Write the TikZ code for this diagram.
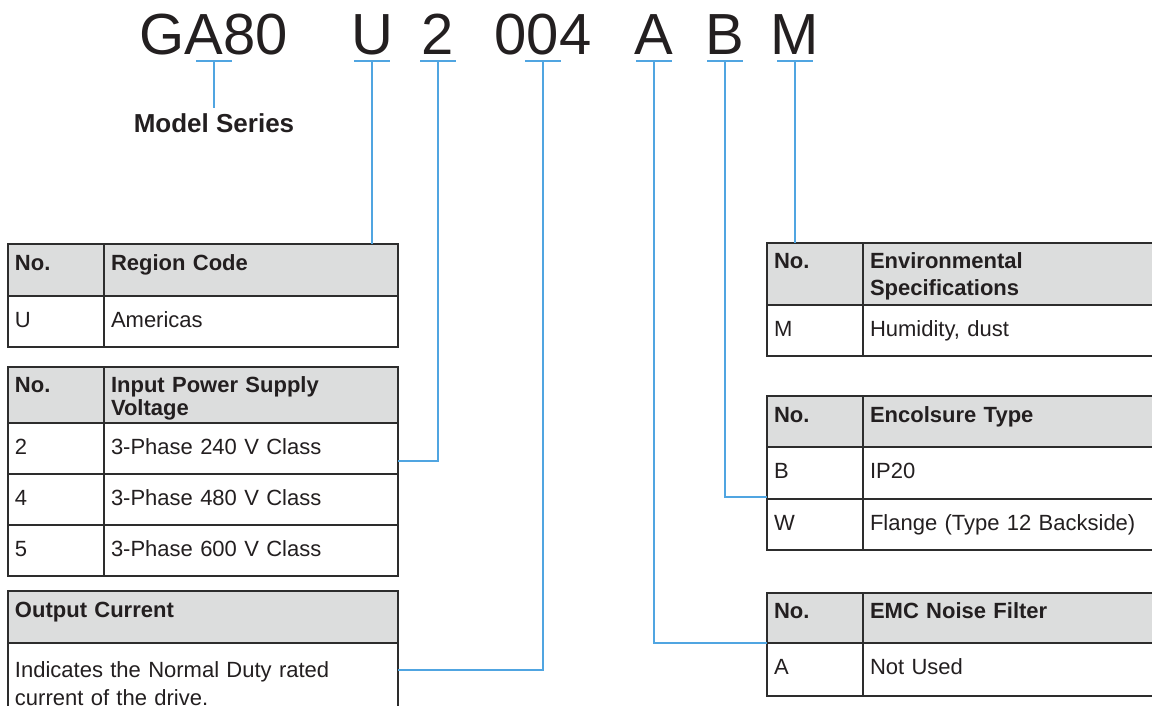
\documentclass[tikz,border=0pt]{standalone}
\usepackage{fontspec}
\setmainfont{Liberation Sans}
\usetikzlibrary{positioning}
\definecolor{CodeBlue}{RGB}{80,165,225}
\definecolor{RuleGray}{RGB}{45,45,45}
\definecolor{HeadGray}{RGB}{220,221,221}
\definecolor{InkBlack}{RGB}{35,31,32}

\begin{document}
\begin{tikzpicture}[x=1pt, y=-1pt, text=InkBlack]
  \tikzset{
    code/.style={anchor=base, inner sep=0pt, text depth=0pt, font=\fontsize{58}{60}\selectfont},
    tab/.style={draw=RuleGray, line width=2pt, outer sep=0pt, inner xsep=7pt, inner ysep=0pt, align=left, fill=white,
      font=\fontsize{22}{28}\selectfont, text height=31pt, text depth=20pt},
    hd/.style={tab, fill=HeadGray, font=\bfseries\fontsize{22}{23}\selectfont, text height=26pt, text depth=26pt},
    nocol/.style={text width=82pt},
    lcol/.style={text width=280pt},
    rcol/.style={text width=313pt},
    link/.style={draw=CodeBlue, line width=2pt}
  }
  \clip (0,0) rectangle (1152,706);

  % model code
  \node[code] (ser) at (214,55) {GA80};
  \node[code] (reg) at (372,55) {U};
  \node[code] (volt) at (438,55) {2};
  \node[code] (amp) at (543,55) {004};
  \node[code] (emc) at (654,55) {A};
  \node[code] (encl) at (725,55) {B};
  \node[code] (env) at (795,55) {M};
  \node[font=\bfseries\fontsize{26}{28}\selectfont, anchor=base, inner sep=0pt] (serlbl) at (214,133) {Model Series};

  % left tables
  \node[hd, nocol, anchor=north west] (regno) at (8,244) {No.};
  \node[hd, lcol, right=0pt of regno] (regh) {Region Code};
  \node[tab, nocol, below=0pt of regno] (regu) {U};
  \node[tab, lcol, below=0pt of regh] (regud) {Americas};

  \node[hd, nocol, anchor=north west, text height=25pt, text depth=31pt] (voltno) at (8,367) {No.};
  \node[hd, lcol, right=0pt of voltno, text height=25pt, text depth=31pt] (volth) {Input Power Supply\\Voltage};
  \node[tab, nocol, below=0pt of voltno] (v2) {2};
  \node[tab, lcol, below=0pt of volth] (v2d) {3-Phase 240 V Class};
  \node[tab, nocol, below=0pt of v2] (v4) {4};
  \node[tab, lcol, below=0pt of v2d] (v4d) {3-Phase 480 V Class};
  \node[tab, nocol, below=0pt of v4] (v5) {5};
  \node[tab, lcol, below=0pt of v4d] (v5d) {3-Phase 600 V Class};

  \node[hd, text width=376pt, anchor=north west] (amph) at (8,591) {Output Current};
  \node[tab, text width=376pt, below=0pt of amph, text height=34pt, text depth=60pt] (ampd)
    {Indicates the Normal Duty rated\\current of the drive.};

  % right tables
  \node[hd, nocol, anchor=north west, text height=25pt, text depth=37pt] (envno) at (767,243) {No.};
  \node[hd, rcol, right=0pt of envno, text height=25pt, text depth=37pt,
    font=\bfseries\fontsize{22}{27}\selectfont] (envh) {Environmental\\Specifications};
  \node[tab, nocol, below=0pt of envno] (envm) {M};
  \node[tab, rcol, below=0pt of envh] (envmd) {Humidity, dust};

  \node[hd, nocol, anchor=north west, text depth=25pt] (enclno) at (767,396) {No.};
  \node[hd, rcol, right=0pt of enclno, text depth=25pt] (enclh) {Encolsure Type};
  \node[tab, nocol, below=0pt of enclno, text depth=21pt] (encb) {B};
  \node[tab, rcol, below=0pt of enclh, text depth=21pt] (encbd) {IP20};
  \node[tab, nocol, below=0pt of encb] (encw) {W};
  \node[tab, rcol, below=0pt of encbd] (encwd) {Flange (Type 12 Backside)};

  \node[hd, nocol, anchor=north west, text height=25pt, text depth=25pt] (emcno) at (767,593) {No.};
  \node[hd, rcol, right=0pt of emcno, text height=25pt, text depth=25pt] (emch) {EMC Noise Filter};
  \node[tab, nocol, below=0pt of emcno, text depth=22pt] (emca) {A};
  \node[tab, rcol, below=0pt of emch, text depth=22pt] (emcad) {Not Used};

  % connectors
  \foreach \n in {ser,reg,volt,amp,emc,encl,env}
    \draw[link] ([xshift=-18pt,yshift=-6pt]\n.south) -- ([xshift=18pt,yshift=-6pt]\n.south);
  \draw[link] ([yshift=-6pt]ser.south) -- ([yshift=6pt]serlbl.north);
  \draw[link] ([yshift=-6pt]reg.south) -- (reg.south |- regh.north);
  \draw[link] ([yshift=-6pt]volt.south) |- ([yshift=13pt]v2d.south east);
  \draw[link] ([yshift=-6pt]amp.south) |- ([yshift=-27pt]ampd.north east);
  \draw[link] ([yshift=-6pt]emc.south) |- (emcno.south west);
  \draw[link] ([yshift=-6pt]encl.south) |- ([yshift=2pt]encb.south west);
  \draw[link] ([yshift=-6pt]env.south) -- (env.south |- envno.north);
\end{tikzpicture}
\end{document}
